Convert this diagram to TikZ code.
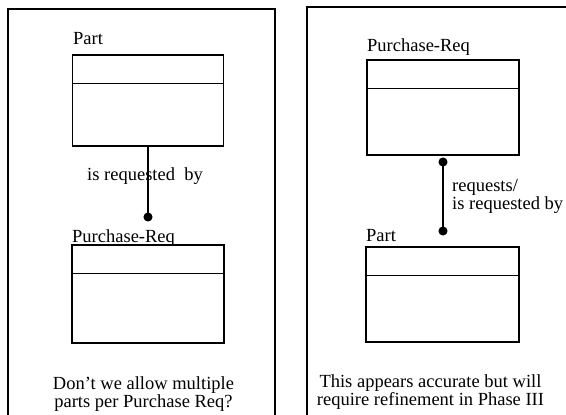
\documentclass[tikz,border=0pt]{standalone}
\usepackage{fontspec}
\setmainfont{Liberation Serif}
\usetikzlibrary{positioning,arrows.meta}

\begin{document}
\begin{tikzpicture}[x=1pt, y=-1pt,
    frame/.style={line width=1.3pt},
    entity/.style={rectangle, draw, line width=1.4pt, minimum width=151pt, inner sep=0pt},
    lbl/.style={font=\fontsize{18.5}{18}\selectfont, inner sep=0pt},
    rel/.style={line width=1.4pt, {Circle[length=9pt]}-{Circle[length=9pt]}}]
    \useasboundingbox (0,0) rectangle (566,415);

    % left panel
    \draw[frame] (8,415) |- (275,9) -- (275,415);
    \node (part) [entity, minimum height=91pt] at (148,100.5) {};
    \node (partname) [lbl, anchor=base west] at (73,44) {Part};
    \node (purchreq) [entity, minimum width=152pt, minimum height=98pt] at (148,294) {};
    \node (purchreqname) [lbl, anchor=base west] at (72,242) {Purchase-Req};
    \coordinate (ldot) at (148,221.5);
    \draw[rel, -{Circle[length=9pt]}] (part.south) -- (ldot);
    \node (isreq) [lbl, anchor=base] at (145,180) {is requested \ by};
    \node (question) [lbl, anchor=base, align=center] at (143.5,407) {Don't we allow multiple\\parts per Purchase Req?};

    % right panel
    \draw[frame] (307,415) |- (570,7);
    \node (reqpurch) [entity, minimum width=152pt, minimum height=95pt] at (443,107.5) {};
    \node (reqpurchname) [lbl, anchor=base west] at (367,52) {Purchase-Req};
    \node (reqpart) [entity, minimum width=153pt, minimum height=95pt] at (442.5,294.5) {};
    \node (reqpartname) [lbl, anchor=base west] at (366,241) {Part};
    \coordinate (rtop) at (443,157.5);
    \coordinate (rbot) at (443,235.5);
    \draw[rel] (rtop) -- (rbot);
    \node (reqlabel) [lbl, anchor=base west, align=left] at (452,209) {requests/\\is requested by};
    \node (remark) [lbl, anchor=base, align=center] at (430.5,405) {This appears accurate but will\\require refinement in Phase III};

    % attribute dividers
    \foreach \b in {part,purchreq,reqpurch,reqpart}
        \draw[line width=1.4pt] ([yshift=-29pt]\b.north west) -- ([yshift=-29pt]\b.north east);
\end{tikzpicture}
\end{document}
